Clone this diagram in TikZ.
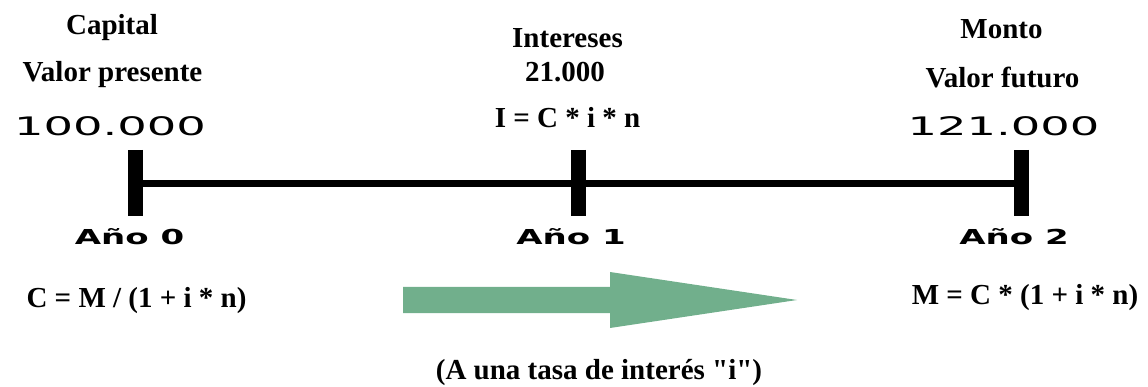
\documentclass[tikz,border=0pt]{standalone}
\usepackage{fontspec}
\setmainfont{Liberation Serif}
\newfontfamily\qfont[Ligatures=ResetAll]{Liberation Serif}
\newfontfamily\numfont{DejaVu Sans}
\definecolor{arrowgreen}{RGB}{113,175,140}
\tikzset{
  lbl/.style={inner sep=0pt, anchor=base, font=\fontsize{29}{34}\selectfont\bfseries},
  num/.style={inner sep=0pt, anchor=base, font=\fontsize{25.5}{28}\numfont},
  yr/.style={inner sep=0pt, anchor=base, font=\fontsize{20.6}{24}\numfont\bfseries},
  tick/.style={line width=15pt},
  axis/.style={line width=7pt}
}
\begin{document}
\begin{tikzpicture}[x=1pt,y=-1pt]
\useasboundingbox (0,0) rectangle (1148,387);
% ticks
\coordinate (t0a) at (135,150); \coordinate (t0b) at (135,216);
\coordinate (t1a) at (578,150); \coordinate (t1b) at (578,216);
\coordinate (t2a) at (1021,150); \coordinate (t2b) at (1021,216);
\coordinate (l0) at (135,183.5); \coordinate (l2) at (1021,183.5);
\draw[axis] (l0) -- (l2);
\draw[tick] (t0a) -- (t0b);
\draw[tick] (t1a) -- (t1b);
\draw[tick] (t2a) -- (t2b);
% top labels
\node[lbl] (cap) at (112,35) {Capital};
\node[lbl] (vp) at (112.5,82) {Valor presente};
\node[lbl] (int) at (567.5,48) {Intereses};
\node[lbl] (v21) at (565,82) {21.000};
\node[lbl] (form1) at (567.5,128) {I = C * i * n};
\node[lbl] (mon) at (1001.5,39) {Monto};
\node[lbl] (vf) at (1002.5,88) {Valor futuro};
% numbers
\node[num] (n0) at (110,136) {\scalebox{1.82}[1]{100.000}};
\node[num] (n2) at (1003.5,136) {\scalebox{1.82}[1]{121.000}};
% years
\node[yr] (y0) at (129.5,245) {\scalebox{1.65}[1]{Año 0}};
\node[yr] (y1) at (571,245) {\scalebox{1.65}[1]{Año 1}};
\node[yr] (y2) at (1014,245) {\scalebox{1.65}[1]{Año 2}};
% formulas
\node[lbl] (fc) at (136.5,308) {C = M / (1 + i * n)};
\node[lbl] (fm) at (1025,305) {M = C * (1 + i * n)};
% arrow
\fill[arrowgreen] (403,287) -- (610,287) -- (610,272) -- (797,300) -- (610,328) -- (610,313) -- (403,313) -- cycle;
\node[lbl] (tasa) at (599,379) {(A una tasa de interés {\qfont\bfseries "}i{\qfont\bfseries "})};
\end{tikzpicture}
\end{document}
